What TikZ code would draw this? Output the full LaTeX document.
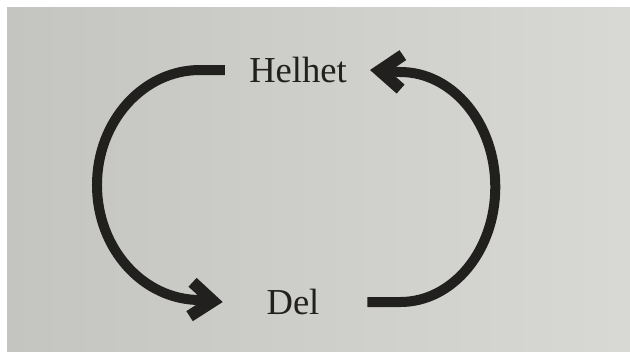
\documentclass[tikz,border=0pt]{standalone}
\usepackage{fontspec}
\setmainfont{Liberation Serif}
\usepackage{tikz}
\usepackage{xcolor}
\usetikzlibrary{arrows.meta}
\definecolor{paperDark}{RGB}{196,197,192}
\definecolor{paperLight}{RGB}{216,216,212}
\definecolor{inkBlack}{RGB}{34,32,31}
\begin{document}
\begin{tikzpicture}[
    x=0.025cm,y=-0.025cm,
    word/.style={inner sep=0pt,text=inkBlack,font=\fontsize{26}{30}\selectfont},
    cyclearrow/.style={line width=10*0.025cm,inkBlack,line cap=butt,
      -{Straight Barb[length=0.55cm,width=0.85cm,line width=8.5pt]}}
  ]
    % page and photo area
    \fill[white] (0,0) rectangle (630,351);
    \shade[left color=paperDark,right color=paperLight] (7,7) rectangle (630,351);
    \useasboundingbox (0,0) rectangle (630,351);
    \node[word] (helhet) at (298,70) {Helhet};
    \node[word] (del) at (293,302) {Del};
    \draw[cyclearrow] ([xshift=-0.6cm]helhet.west) -- ++(-25,0)
      arc[start angle=-90,end angle=-270,x radius=103,y radius=115]
      -- ([xshift=-1.09cm]del.west);
    \draw[cyclearrow] ([xshift=1.19cm]del.east) -- ++(33,0)
      arc[start angle=90,end angle=-90,x radius=95,y radius=115]
      -- ([xshift=0.575cm]helhet.east);
  \end{tikzpicture}
\end{document}
